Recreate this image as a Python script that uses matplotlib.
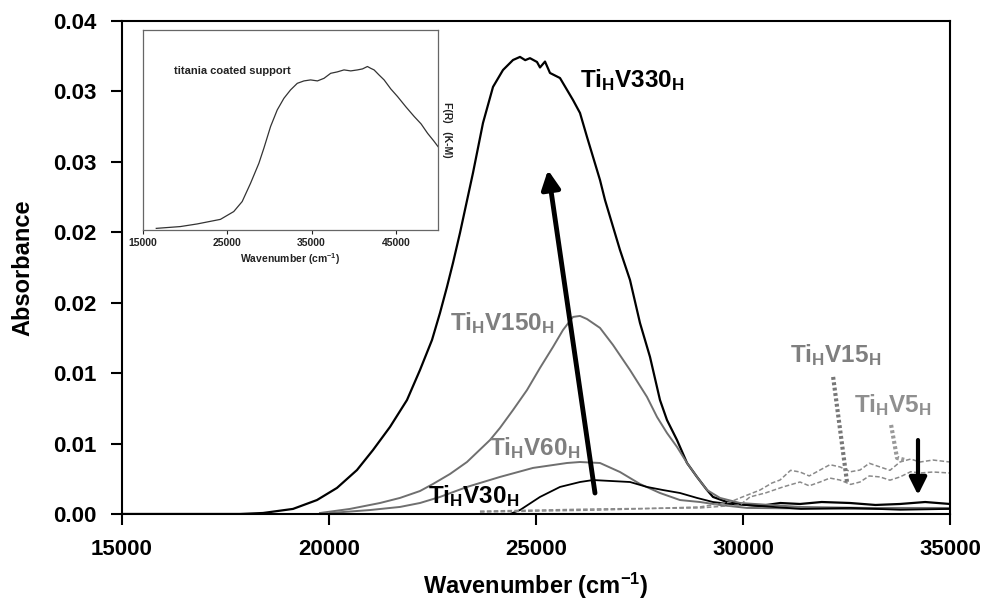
import numpy as np
import matplotlib
matplotlib.use("Agg")
import matplotlib.pyplot as plt

plt.rcParams['font.family'] = ['Liberation Sans', 'DejaVu Sans']
plt.rcParams['font.weight'] = 'bold'
plt.rcParams['mathtext.fontset'] = 'custom'
plt.rcParams['mathtext.bf'] = 'Liberation Sans:bold'
plt.rcParams['mathtext.rm'] = 'Liberation Sans:bold'
plt.rcParams['mathtext.default'] = 'bf'

# spectra (wavenumber in cm-1, absorbance)
wn_330 = [15000, 17850, 18406, 19131, 19710, 20193, 20676, 21063, 21474, 21884, 22198,
          22488, 22681, 22850, 22995, 23164, 23478, 23720, 23962, 24203, 24445, 24614,
          24740, 24855, 25024, 25097, 25218, 25338, 25580, 25894, 26063, 26232, 26546,
          26667, 27029, 27271, 27512, 27754, 27995, 28164, 28406, 28648, 28889, 29131,
          29276, 29614, 30097, 30411, 30900, 31377, 31900, 32585, 33200, 33792, 34400, 35000]
ab_330 = [0.0, 0.0, 0.00007, 0.00036, 0.00099, 0.00185, 0.00312, 0.00454, 0.00618, 0.00809,
          0.01022, 0.01235, 0.01427, 0.01612, 0.01782, 0.01995, 0.02421, 0.02776, 0.03032,
          0.03152, 0.03223, 0.03245, 0.03222, 0.03236, 0.03209, 0.03170, 0.03212, 0.03131,
          0.03095, 0.02939, 0.02847, 0.02677, 0.02371, 0.02229, 0.01874, 0.01661, 0.01356,
          0.01115, 0.00809, 0.00667, 0.00525, 0.00362, 0.00263, 0.00170, 0.00121, 0.00085,
          0.00064, 0.00057, 0.00078, 0.00071, 0.00085, 0.00078, 0.00064, 0.00071, 0.00085, 0.00071]

wn_150 = [19783, 20507, 21232, 21715, 22198, 22512, 22923, 23333, 23889, 24130, 24445, 24783,
          25097, 25411, 25652, 25894, 26063, 26232, 26546, 26860, 27271, 27681, 27923, 28164,
          28406, 28648, 28889, 29131, 29445, 29928, 31377, 33000, 35000]
ab_150 = [0.00007, 0.00036, 0.00078, 0.00114, 0.00163, 0.00213, 0.00284, 0.00369, 0.00525,
          0.00611, 0.00738, 0.00880, 0.01037, 0.01186, 0.01306, 0.01399, 0.01406, 0.01384,
          0.01321, 0.01200, 0.01022, 0.00831, 0.00689, 0.00575, 0.00476, 0.00362, 0.00263,
          0.00170, 0.00114, 0.00078, 0.00050, 0.00043, 0.00043]

wn_60 = [20024, 20990, 21715, 22198, 22681, 23333, 24130, 24928, 25749, 26063, 26546, 27029,
         27512, 27995, 28478, 28961, 29445, 30097, 32585, 35000]
ab_60 = [0.00007, 0.00028, 0.00050, 0.00078, 0.00121, 0.00192, 0.00263, 0.00327, 0.00362,
         0.00369, 0.00362, 0.00298, 0.00213, 0.00149, 0.00099, 0.00085, 0.00064, 0.00043,
         0.00036, 0.00036]

wn_30 = [24372, 24614, 25097, 25580, 26063, 26377, 27271, 27681, 28068, 28478, 28889, 29276,
         29686, 30411, 31400, 32585, 33800, 35000]
ab_30 = [0.0, 0.00028, 0.00121, 0.00192, 0.00227, 0.00241, 0.00227, 0.00192, 0.00170,
         0.00149, 0.00114, 0.00085, 0.00071, 0.00057, 0.00036, 0.00043, 0.00030, 0.00036]

wn_15 = [23647, 26546, 28961, 29928, 30169, 30550, 30966, 31377, 31600, 31860, 32100, 32343,
         32600, 32826, 33050, 33309, 33550, 33792, 34050, 34276, 34590, 35000]
ab_15 = [0.00020, 0.00036, 0.00043, 0.00064, 0.00121, 0.00150, 0.00192, 0.00227, 0.00200,
         0.00227, 0.00255, 0.00241, 0.00210, 0.00227, 0.00270, 0.00263, 0.00240, 0.00263,
         0.00300, 0.00291, 0.00298, 0.00291]

wn_5 = [23647, 26546, 28961, 29686, 29928, 30411, 30700, 30894, 31150, 31377, 31600, 31860,
        32100, 32343, 32600, 32826, 33050, 33309, 33550, 33792, 34050, 34276, 34590, 35000]
ab_5 = [0.00014, 0.00028, 0.00050, 0.00085, 0.00114, 0.00170, 0.00220, 0.00241, 0.00310,
        0.00298, 0.00270, 0.00312, 0.00350, 0.00334, 0.00300, 0.00312, 0.00360, 0.00334,
        0.00310, 0.00369, 0.00390, 0.00369, 0.00383, 0.00369]

# inset: titania coated support, F(R) in relative units
wn_tio2 = [16580, 19435, 21420, 24190, 25770, 26770, 27760, 28750, 29340, 30140, 30930,
           31720, 32510, 33310, 34100, 34890, 35700, 36480, 37270, 38050, 38850, 39650,
           40450, 41050, 41630, 42020, 42420, 43000, 43610, 44400, 45200, 46200, 47180,
           48000, 48770, 49500, 50000]
fr_tio2 = [0.008, 0.017, 0.030, 0.053, 0.092, 0.142, 0.233, 0.333, 0.408, 0.517, 0.600,
           0.658, 0.700, 0.733, 0.745, 0.750, 0.745, 0.758, 0.783, 0.790, 0.800, 0.795,
           0.800, 0.805, 0.817, 0.808, 0.800, 0.775, 0.750, 0.705, 0.667, 0.615, 0.567,
           0.530, 0.483, 0.445, 0.417]

ytick_vals = [0.0, 0.005, 0.01, 0.015, 0.02, 0.025, 0.03, 0.035]
ytick_text = ['0.00', '0.01', '0.01', '0.02', '0.02', '0.03', '0.03', '0.04']
xtick_vals = [15000, 20000, 25000, 30000, 35000]

fig = plt.figure(figsize=(9.9, 6.1), dpi=100)
ax = fig.add_axes([0.1232, 0.1574, 0.8364, 0.8082])

dark = 'black'
grey = '#6f6f6f'
light = '#8a8a8a'

ax.plot(wn_330, ab_330, color=dark, lw=1.6)
ax.plot(wn_150, ab_150, color=grey, lw=1.4)
ax.plot(wn_60, ab_60, color=grey, lw=1.4)
ax.plot(wn_30, ab_30, color=dark, lw=1.3)
ax.plot(wn_15, ab_15, color=light, lw=1.1, ls=(0, (3, 1.5)))
ax.plot(wn_5, ab_5, color=light, lw=1.1, ls=(0, (3, 1.5)))

ax.set_xlim(15000, 35000)
ax.set_ylim(0, 0.035)
ax.set_xticks(xtick_vals)
ax.set_xticklabels([str(v) for v in xtick_vals])
ax.set_yticks(ytick_vals)
ax.set_yticklabels(ytick_text)
ax.tick_params(direction='out', length=8, width=1.5, labelsize=16, pad=10)
for lab in ax.get_xticklabels() + ax.get_yticklabels():
    lab.set_fontweight('bold')
for s in ax.spines.values():
    s.set_linewidth(1.5)

ax.set_xlabel(r'Wavenumber (cm$^{\mathbf{-1}}$)', fontsize=17, fontweight='bold', labelpad=8)
ax.set_ylabel('Absorbance', fontsize=17, fontweight='bold', labelpad=14)

# arrows and leaders
ax.annotate('', xy=(25290, 0.02442), xytext=(26425, 0.00149),
            arrowprops=dict(arrowstyle='-|>', color='black', lw=3.5, mutation_scale=28,
                            shrinkA=0, shrinkB=0))
ax.annotate('', xy=(34227, 0.00135), xytext=(34227, 0.00525),
            arrowprops=dict(arrowstyle='-|>', color='black', lw=3.0, mutation_scale=26,
                            shrinkA=0, shrinkB=0))
ax.plot([32177, 32512], [0.00973, 0.00227], color='#777777', lw=3, ls=(0, (0.7, 0.6)))
ax.plot([33577, 33720, 33913], [0.00632, 0.00398, 0.00383], color='#999999', lw=3,
        ls=(0, (0.7, 0.6)))

# curve labels
lbl_kw = dict(fontsize=17.5, fontweight='bold', va='baseline', ha='left')
ax.text(26063, 0.0303, r'Ti$_\mathbf{H}$V330$_\mathbf{H}$', color='black', **lbl_kw)
ax.text(22923, 0.01306, r'Ti$_\mathbf{H}$V150$_\mathbf{H}$', color='#7f7f7f', **lbl_kw)
ax.text(23865, 0.00419, r'Ti$_\mathbf{H}$V60$_\mathbf{H}$', color='#7f7f7f', **lbl_kw)
ax.text(22391, 0.00078, r'Ti$_\mathbf{H}$V30$_\mathbf{H}$', color='black', **lbl_kw)
ax.text(31136, 0.01079, r'Ti$_\mathbf{H}$V15$_\mathbf{H}$', color='#7f7f7f', **lbl_kw)
ax.text(32682, 0.00724, r'Ti$_\mathbf{H}$V5$_\mathbf{H}$', color='#8f8f8f', **lbl_kw)

# inset
axin = fig.add_axes([0.1444, 0.623, 0.298, 0.328])
axin.plot(wn_tio2, fr_tio2, color='#333333', lw=0.9)
axin.set_xlim(15000, 50000)
axin.set_ylim(0, 1)
axin.set_xticks([15000, 25000, 35000, 45000])
axin.set_yticks([])
axin.tick_params(axis='x', direction='out', length=3, width=0.8, labelsize=7.5, pad=3,
                 colors='#222222')
for lab in axin.get_xticklabels():
    lab.set_fontweight('bold')
for s in axin.spines.values():
    s.set_linewidth(0.9)
    s.set_color('#666666')
axin.set_xlabel(r'Wavenumber (cm$^{\mathbf{-1}}$)', fontsize=7.5, fontweight='bold',
                labelpad=2, color='#222222')
axin.yaxis.set_label_position('right')
axin.set_ylabel('F(R)   (K-M)', fontsize=7.5, fontweight='bold', rotation=270,
                labelpad=10, color='#222222')
axin.text(0.105, 0.78, 'titania coated support', transform=axin.transAxes,
          fontsize=8, fontweight='bold', color='#222222')

fig.savefig('out.png', dpi=100)
